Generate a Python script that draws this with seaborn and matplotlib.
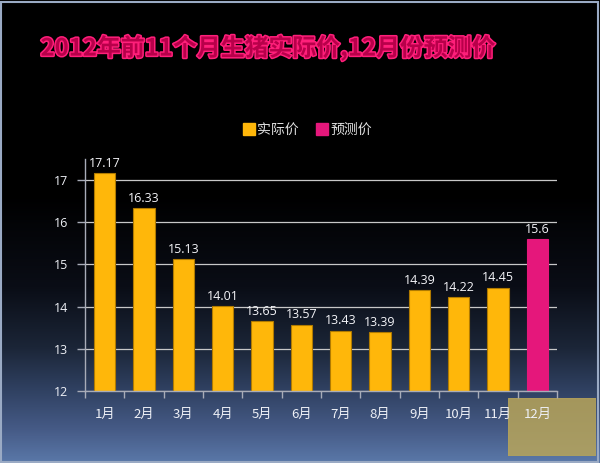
import numpy as np
import pandas as pd
import matplotlib
matplotlib.use("Agg")
import matplotlib.pyplot as plt
import matplotlib.patheffects as pe
from matplotlib.colors import LinearSegmentedColormap
from matplotlib.patches import Rectangle
from matplotlib.lines import Line2D
import seaborn as sns

# ---- data ----
months = ["1月", "2月", "3月", "4月", "5月", "6月", "7月", "8月", "9月", "10月", "11月", "12月"]
values = [17.17, 16.33, 15.13, 14.01, 13.65, 13.57, 13.43, 13.39, 14.39, 14.22, 14.45, 15.6]
labels = ["17.17", "16.33", "15.13", "14.01", "13.65", "13.57", "13.43", "13.39", "14.39", "14.22", "14.45", "15.6"]
kinds = ["实际价"] * 11 + ["预测价"]
series_names = ["实际价", "预测价"]
series_colors = ["#FFB70A", "#E5177B"]
y_ticks = [12, 13, 14, 15, 16, 17]
title = "2012年前11个月生猪实际价,12月份预测价"

sns.set_theme(style="dark")
plt.rcParams['font.family'] = ['Noto Sans CJK SC', 'DejaVu Sans']

fig = plt.figure(figsize=(6.0, 4.63), dpi=100)

# background gradient
bg = fig.add_axes([0, 0, 1, 1], zorder=-10)
cmap = LinearSegmentedColormap.from_list(
    "bg", [(0.0, "#000000"), (0.42, "#000000"), (0.62, "#0a0d16"),
           (0.75, "#1b2537"), (0.84, "#2f4060"), (0.93, "#465b87"), (1.0, "#5a78a8")])
grad = np.linspace(0, 1, 256).reshape(-1, 1)
bg.imshow(grad, aspect="auto", cmap=cmap, extent=[0, 1, 0, 1], origin="upper")
bg.set_xlim(0, 1); bg.set_ylim(0, 1)
bg.axis("off")
bg.add_patch(Rectangle((0.002, 0.003), 0.995, 0.993, fill=False,
                       edgecolor="#9aaac4", linewidth=1.5, transform=bg.transAxes))

# decorative watermark box (behind chart texts)
wm = fig.add_axes([508/600, 1 - 456/463, 88/600, 58/463], zorder=-5)
wm.set_xlim(0, 1); wm.set_ylim(0, 1); wm.axis("off")
wm.add_patch(Rectangle((0, 0), 1, 1, color="#b8a55a", alpha=0.85))

ax = fig.add_axes([85/600, 1 - 391/463, 472/600, 232/463], zorder=1)
ax.set_facecolor("none")

df = pd.DataFrame({"月份": months, "价格": values, "类型": kinds})
sns.barplot(data=df, x="月份", y="价格", hue="类型", hue_order=series_names,
            palette=series_colors, dodge=False, width=0.55, ax=ax,
            edgecolor="#B07A00", linewidth=0.8, saturation=1)
for p in ax.patches:
    fc = p.get_facecolor()
    if fc[0] > 0.85 and fc[1] < 0.3:
        p.set_edgecolor("#E5177B")

ax.set_ylim(12, 17.5)
ax.set_xlim(-0.5, 11.5)
ax.set_yticks(y_ticks)
ax.set_yticklabels([str(t) for t in y_ticks], color="#eef0f6", fontsize=9,
                   family=["Open Sans", "DejaVu Sans"])
ax.set_xlabel(""); ax.set_ylabel("")
ax.grid(axis="y", color="#c8c8c8", linewidth=0.9)
ax.grid(axis="x", visible=False)
ax.set_axisbelow(True)
for s in ["top", "right"]:
    ax.spines[s].set_visible(False)
for s in ["left", "bottom"]:
    ax.spines[s].set_visible(True)
    ax.spines[s].set_color("#a8acb8")
    ax.spines[s].set_linewidth(1.0)
ax.tick_params(axis="y", length=6, width=1, color="#a8acb8", pad=6, left=True)
ax.set_xticks(np.arange(len(months)))
ax.set_xticklabels(months, color="#eef0f6", fontsize=9.5)
ax.tick_params(axis="x", length=0, pad=12)
ax.set_xticks(np.arange(-0.5, len(months), 1.0), minor=True)
ax.tick_params(axis="x", which="minor", length=5, width=1, color="#a8acb8", bottom=True)

for i, (v, lab) in enumerate(zip(values, labels)):
    ax.text(i, v + 0.08, lab, ha="center", va="bottom", color="#f4f4f8",
            fontsize=9, family=["Open Sans", "DejaVu Sans"])

# legend
if ax.get_legend() is not None:
    ax.get_legend().remove()
handles = [Line2D([0], [0], marker="s", linestyle="none", markersize=8,
                  markerfacecolor=c, markeredgecolor=c) for c in series_colors]
fig.legend(handles, series_names, loc="center", bbox_to_anchor=(307/600, 1 - 130/463),
           ncol=2, frameon=False, fontsize=10, labelcolor="#e0e0e0",
           handletextpad=0.1, columnspacing=1.2, handlelength=1.0)

# title
fig.text(268/600, 1 - 48/463, title, ha="center", va="center", fontsize=17.2,
         fontweight="bold", color="#B8004A",
         path_effects=[pe.withStroke(linewidth=2.2, foreground="#FF1F7A")])

fig.savefig("out.png", dpi=100)
